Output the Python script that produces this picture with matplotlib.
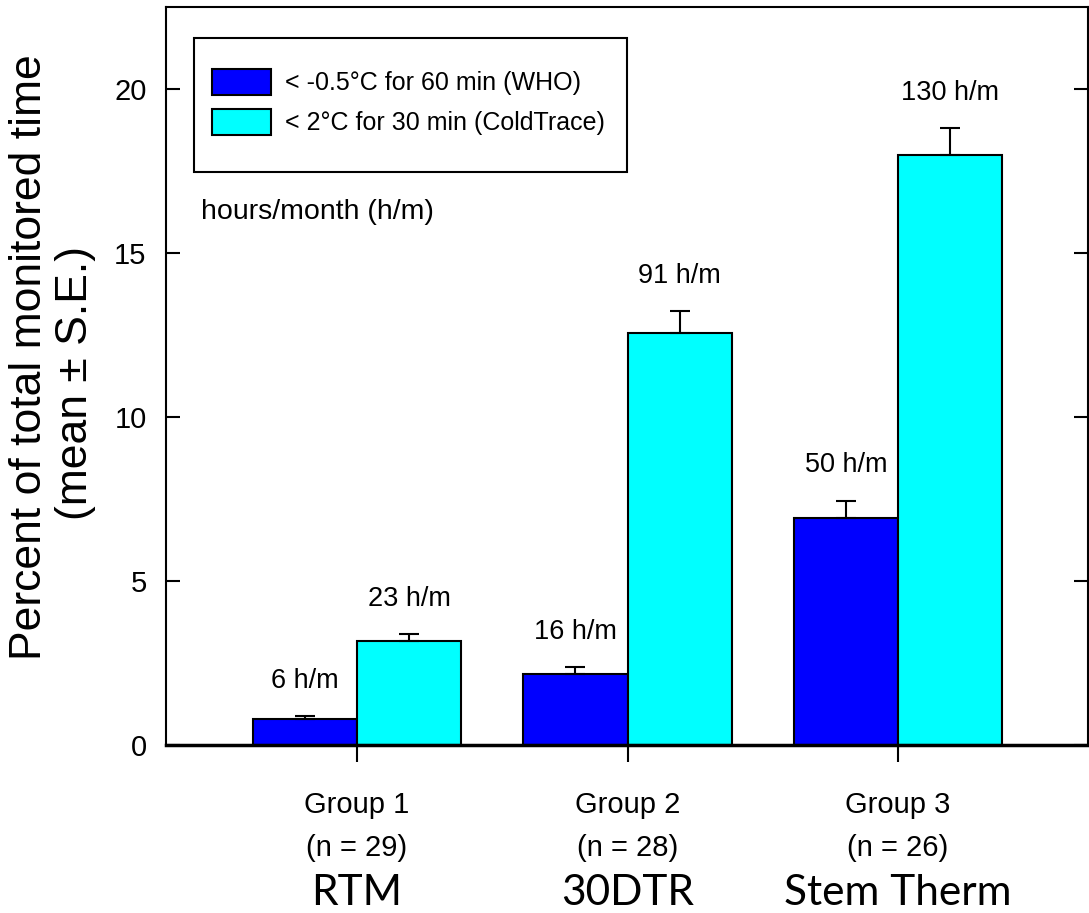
import matplotlib
matplotlib.use("Agg")
import matplotlib.pyplot as plt
from matplotlib.patches import Patch, Rectangle
from matplotlib.transforms import blended_transform_factory
import numpy as np

# ---- data ----
group_labels = ["Group 1\n(n = 29)", "Group 2\n(n = 28)", "Group 3\n(n = 26)"]
device_names = ["RTM", "30DTR", "Stem Therm"]
who_mean = [0.79, 2.16, 6.92]
who_se = [0.09, 0.22, 0.53]
cold_mean = [3.17, 12.56, 17.99]
cold_se = [0.21, 0.67, 0.82]
who_text = ["6 h/m", "16 h/m", "50 h/m"]
cold_text = ["23 h/m", "91 h/m", "130 h/m"]
legend_labels = ["< -0.5°C for 60 min (WHO)", "< 2°C for 30 min (ColdTrace)"]
yticks = [0, 5, 10, 15, 20]
ylabel_line1 = "Percent of total monitored time"
ylabel_line2 = "(mean ± S.E.)"
unit_note = "hours/month (h/m)"

FONT = ["Liberation Sans", "DejaVu Sans"]

fig = plt.figure(figsize=(10.89, 9.13), dpi=100)
ax = fig.add_axes([166/1089, 1-745/913, (1088-166)/1089, (745-7)/913])

x = np.arange(len(group_labels))
w = 0.385
c_who = "#0000FF"
c_cold = "#00FFFF"

ax.bar(x - w/2, who_mean, w, color=c_who, edgecolor="black", linewidth=1.5, zorder=2)
ax.bar(x + w/2, cold_mean, w, color=c_cold, edgecolor="black", linewidth=1.5, zorder=2)
ax.errorbar(x - w/2, who_mean, yerr=[np.zeros(3), who_se], fmt="none",
            ecolor="black", elinewidth=1.5, capsize=7.5, capthick=1.5, zorder=3)
ax.errorbar(x + w/2, cold_mean, yerr=[np.zeros(3), cold_se], fmt="none",
            ecolor="black", elinewidth=1.5, capsize=7.5, capthick=1.5, zorder=3)

for xi, m, s, t in zip(x - w/2, who_mean, who_se, who_text):
    ax.annotate(t, (xi, m + s), xytext=(0, 16), textcoords="offset points",
                ha="center", va="bottom", fontsize=19.5, family=FONT)
for xi, m, s, t in zip(x + w/2, cold_mean, cold_se, cold_text):
    ax.annotate(t, (xi, m + s), xytext=(0, 16), textcoords="offset points",
                ha="center", va="bottom", fontsize=19.5, family=FONT)

ax.set_xlim(-0.706, 2.702)
ax.set_ylim(0, 22.5)
ax.set_yticks(yticks)
ax.set_yticklabels([str(v) for v in yticks], fontsize=21, family=FONT)
ax.tick_params(axis="y", direction="in", length=10, width=1.5, left=True, right=True, pad=14)
ax.set_xticks(x)
ax.set_xticklabels(group_labels, fontsize=21, family=FONT, linespacing=1.67)
ax.tick_params(axis="x", direction="out", length=12, width=1.5, pad=21)

for sp in ax.spines.values():
    sp.set_linewidth(1.5)
ax.spines["bottom"].set_linewidth(2.5)

trans = blended_transform_factory(ax.transData, fig.transFigure)
for xi, name in zip(x, device_names):
    ax.text(xi, 1 - 893/913, name, transform=trans, ha="center", va="center",
            fontsize=30.5, family=["Lato", "DejaVu Sans"])

# y-axis label (two lines)
fig.text(30/1089, 1 - 357/913, ylabel_line1, rotation=90, ha="center", va="center",
         fontsize=32, family=FONT)
fig.text(76/1089, 1 - 383/913, ylabel_line2, rotation=90, ha="center", va="center",
         fontsize=32, family=FONT)

ax.text(0.038, 0.722, unit_note, transform=ax.transAxes, ha="left",
        va="center", fontsize=20.5, family=FONT)

# legend (frameless) with a separate box drawn around it
handles = [Patch(facecolor=c_who, edgecolor="black", linewidth=1.5),
           Patch(facecolor=c_cold, edgecolor="black", linewidth=1.5)]
leg = ax.legend(handles, legend_labels, loc="upper left",
                bbox_to_anchor=((212 - 166) / 922, (745 - 69) / 738),
                prop={"family": FONT, "size": 18}, frameon=False,
                borderpad=0, handlelength=2.36, handleheight=1.2, handletextpad=0.56,
                labelspacing=0.55, borderaxespad=0)
ax.add_patch(Rectangle(((194 - 166) / 922, (745 - 172) / 738), (627 - 194) / 922, 134 / 738,
                       transform=ax.transAxes, facecolor="white", edgecolor="black",
                       linewidth=1.5, zorder=4))
leg.set_zorder(5)

fig.savefig("out.png", dpi=100)
